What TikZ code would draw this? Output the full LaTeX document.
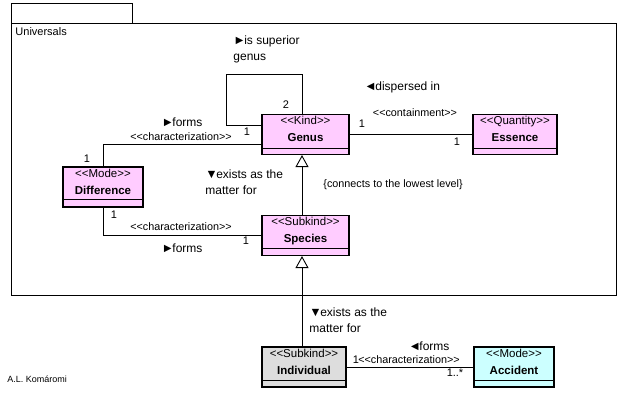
\documentclass[tikz,border=0pt]{standalone}
\usepackage{fontspec}
\setmainfont{Liberation Sans}
\usetikzlibrary{arrows.meta}
\definecolor{kindpink}{RGB}{255,204,255}
\definecolor{indgrey}{RGB}{221,221,221}
\definecolor{accyan}{RGB}{204,255,255}
\newcommand{\tri}[1]{{\fontsize{12.5}{12}\selectfont #1}\kern-1.5pt}
\newcommand{\st}[1]{<{}<#1>{}>}

\begin{document}
\begin{tikzpicture}[x=1pt, y=-1pt, line width=0.9pt,
	cls/.style={draw, line width=1.1pt, minimum height=40pt, inner sep=0pt},
	stereo/.style={anchor=base, inner sep=0pt, font=\fontsize{11.5}{13}\selectfont},
	cname/.style={anchor=base, inner sep=0pt, font=\fontsize{11.5}{13}\selectfont\bfseries},
	role/.style={anchor=west, align=left, inner sep=0pt, font=\fontsize{12}{16}\selectfont},
	mult/.style={inner sep=0pt, font=\fontsize{11}{13}\selectfont},
	assoc/.style={inner sep=0pt, font=\fontsize{10.8}{12}\selectfont},
	gen/.style={-{Triangle[open, length=12pt, width=13pt]}}]
	\useasboundingbox (0,0) rectangle (620,405);
	\node[draw, anchor=north west, minimum width=121pt, minimum height=20pt] (tab) at (11,3) {};
	\node[draw, anchor=north west, minimum width=605pt, minimum height=272pt] (pkg) at (11,23) {};
	\node[anchor=west, inner sep=0pt, font=\fontsize{11}{12}\selectfont] (pkgname) at (15,32) {Universals};

	\node[cls, fill=kindpink, minimum width=87pt] (genus) at (305.5,134.5) {};
	\node[stereo] (genus-st) at ([yshift=-11pt]genus.north) {\st{Kind}};
	\node[cname] (genus-nm) at ([yshift=-28pt]genus.north) {Genus};
	\draw[line width=1.1pt] ([yshift=7pt]genus.south west) -- ([yshift=7pt]genus.south east);

	\node[cls, fill=kindpink, minimum width=84pt] (essence) at (515,134.5) {};
	\node[stereo] (essence-st) at ([yshift=-11pt]essence.north) {\st{Quantity}};
	\node[cname] (essence-nm) at ([yshift=-28pt]essence.north) {Essence};
	\draw[line width=1.1pt] ([yshift=7pt]essence.south west) -- ([yshift=7pt]essence.south east);

	\node[cls, fill=kindpink, minimum width=80pt] (difference) at (103,187) {};
	\node[stereo] (difference-st) at ([yshift=-11pt]difference.north) {\st{Mode}};
	\node[cname] (difference-nm) at ([yshift=-28pt]difference.north) {Difference};
	\draw[line width=1.1pt] ([yshift=8pt]difference.south west) -- ([yshift=8pt]difference.south east);

	\node[cls, fill=kindpink, minimum width=87pt] (species) at (305.5,235.5) {};
	\node[stereo] (species-st) at ([yshift=-11pt]species.north) {\st{Subkind}};
	\node[cname] (species-nm) at ([yshift=-28pt]species.north) {Species};
	\draw[line width=1.1pt] ([yshift=8pt]species.south west) -- ([yshift=8pt]species.south east);

	\node[cls, fill=indgrey, minimum width=84pt] (individual) at (304,367) {};
	\node[stereo] (individual-st) at ([yshift=-11pt]individual.north) {\st{Subkind}};
	\node[cname] (individual-nm) at ([yshift=-28pt]individual.north) {Individual};
	\draw[line width=1.1pt] ([yshift=7pt]individual.south west) -- ([yshift=7pt]individual.south east);

	\node[cls, fill=accyan, minimum width=80pt] (accident) at (514,367) {};
	\node[stereo] (accident-st) at ([yshift=-11pt]accident.north) {\st{Mode}};
	\node[cname] (accident-nm) at ([yshift=-28pt]accident.north) {Accident};
	\draw[line width=1.1pt] ([yshift=7pt]accident.south west) -- ([yshift=7pt]accident.south east);

	\coordinate (looptop) at (226,74);
	\draw ([xshift=-3.5pt]genus.north) |- (looptop) |- ([yshift=9.5pt]genus.west);
	\draw (genus) -- (essence);
	\draw (difference.north) |- ([yshift=-9.5pt]genus.west);
	\draw (difference.south) |- (species.west);
	\draw[gen] ([xshift=-3.5pt]species.north) -- ([xshift=-3.5pt]genus.south);
	\draw[gen] ([xshift=-2pt]individual.north) -- ([xshift=-3.5pt]species.south);
	\draw (individual) -- (accident);

	\node[role] (superior) at (233,49) {\tri{►}is superior\\genus};
	\node[mult] (loop-m2) at (286,105) {2};
	\node[mult] (loop-m1) at (247,132) {1};
	\node[role] (dispersed) at (364,87) {\tri{◄}dispersed in};
	\node[assoc] (containment) at (415,113) {\st{containment}};
	\node[mult] (cont-m1) at (362,124) {1};
	\node[mult] (cont-m2) at (457,142) {1};
	\node[role, anchor=center] (forms-up) at (182,122) {\tri{►}forms};
	\node[assoc] (char-up) at (181,137) {\st{characterization}};
	\node[mult] (char-up-m) at (87,159) {1};
	\node[mult] (char-lo-m) at (114,215) {1};
	\node[assoc] (char-lo) at (181,227) {\st{characterization}};
	\node[mult] (char-lo-m2) at (246,241) {1};
	\node[role, anchor=center] (forms-lo) at (182,248) {\tri{►}forms};
	\node[role] (matter-up) at (205,182) {\tri{▼}exists as the\\matter for};
	\node[assoc, anchor=west] (lowest) at (323,185) {\{connects to the lowest level\}};
	\node[role] (matter-lo) at (309,320) {\tri{▼}exists as the\\matter for};
	\node[role, anchor=center] (forms-acc) at (429,346) {\tri{◄}forms};
	\node[mult] (acc-m1) at (356,360) {1};
	\node[assoc] (char-acc) at (409,360) {\st{characterization}};
	\node[mult] (acc-m2) at (455,373) {1..*};
	\node[anchor=west, inner sep=0pt, font=\fontsize{9}{10}\selectfont] (author) at (7,379) {A.L. Komáromi};
\end{tikzpicture}
\end{document}
